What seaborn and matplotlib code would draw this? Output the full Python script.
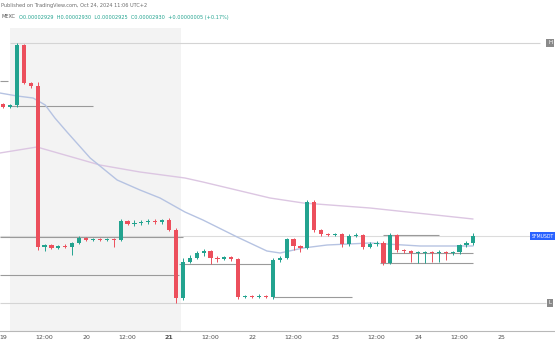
import pandas as pd
import matplotlib
matplotlib.use("Agg")
import matplotlib.pyplot as plt
import seaborn as sns

# 2h candles, x = hours since Oct 19 00:00, prices in 1e-8 USDT
hours = list(range(0, 137, 2))
first_open = 3062
closes = [3059, 3061, 3121, 3083, 3080, 2919, 2921, 2918, 2920, 2919, 2923, 2928,
          2926, 2927, 2926, 2927, 2926, 2945, 2942, 2943, 2944, 2945, 2944, 2946,
          2936, 2868, 2904, 2908, 2913, 2915, 2908, 2907, 2909, 2907, 2869, 2870,
          2869, 2870, 2869, 2906, 2908, 2927, 2920, 2918, 2964, 2936, 2932, 2931,
          2932, 2922, 2930, 2931, 2919, 2922, 2923, 2903, 2931, 2916, 2915, 2913,
          2913, 2914, 2913, 2914, 2913, 2914, 2921, 2923, 2930]
highs = [3063, 3062, 3123, 3122, 3084, 3084, 2922, 2922, 2921, 2922, 2924, 2930,
         2929, 2928, 2928, 2928, 2928, 2947, 2946, 2946, 2946, 2947, 2947, 2947,
         2948, 2938, 2908, 2911, 2915, 2917, 2916, 2910, 2910, 2910, 2908, 2871,
         2871, 2872, 2871, 2908, 2910, 2928, 2928, 2921, 2966, 2966, 2937, 2933,
         2933, 2933, 2932, 2933, 2932, 2924, 2925, 2925, 2933, 2932, 2917, 2916,
         2915, 2915, 2915, 2916, 2915, 2915, 2922, 2925, 2933]
lows = [3058, 3058, 3059, 3082, 3078, 2916, 2915, 2917, 2917, 2918, 2911, 2922,
        2925, 2925, 2925, 2925, 2919, 2925, 2941, 2940, 2941, 2942, 2942, 2942,
        2935, 2863, 2866, 2903, 2907, 2910, 2902, 2904, 2906, 2905, 2867, 2868,
        2868, 2868, 2868, 2867, 2904, 2907, 2916, 2914, 2917, 2934, 2930, 2930,
        2930, 2919, 2920, 2929, 2917, 2918, 2920, 2901, 2902, 2914, 2913, 2904,
        2903, 2903, 2904, 2904, 2906, 2911, 2912, 2919, 2921]

# moving averages
ma_fast_hours = [-0.9, 4.1, 8.7, 12.2, 15.0, 18.5, 25.2, 33.0, 39.6, 45.4, 52.6,
                 57.8, 67.7, 76.3, 80.1, 86.8, 93.7, 106.1, 120.6, 135.9]
ma_fast = [3073, 3070, 3068, 3061, 3048, 3034, 3008, 2986, 2976, 2968, 2954,
           2946, 2929, 2915, 2913, 2918, 2921, 2923, 2920, 2920]
ma_slow_hours = [-0.9, 9.8, 28.0, 39.6, 52.6, 57.8, 77.2, 86.8, 106.1, 135.9]
ma_slow = [3013, 3019, 3001, 2994, 2988, 2984, 2968, 2963, 2958, 2947]

# drawn horizontal levels
level_price = [3085, 3060, 2929, 2891, 2902, 2869, 2931, 2913, 2903]
level_from = [-0.9, 2.0, -0.9, -0.9, 51.0, 78.0, 110.0, 112.0, 109.0]
level_to = [1.4, 26.0, 52.0, 51.0, 78.0, 101.0, 126.0, 136.0, 136.0]

tick_hours = list(range(0, 145, 12))
tick_labels = ["19", "12:00", "20", "12:00", "21", "12:00", "22", "12:00",
               "23", "12:00", "24", "12:00", "25"]

df = pd.DataFrame({"hour": hours, "open": [first_open] + closes[:-1],
                   "high": highs, "low": lows, "close": closes})
df["up"] = df["close"] >= df["open"]
df["bottom"] = df[["open", "close"]].min(axis=1)
df["body"] = (df["close"] - df["open"]).abs().clip(lower=0.8)

sns.set_theme(style="white")
plt.rcParams["font.family"] = ["DejaVu Sans"]

fig = plt.figure(figsize=(5.55, 3.6), dpi=100)
ax = fig.add_axes([0, 29 / 360, 1, 303 / 360])

GREEN = "#22a38f"
RED = "#ec4f5c"

# weekend shading
ax.axvspan(2.0, 51.5, color="#f3f3f3", zorder=0, lw=0)

# full width lines: high, low, last price
last_price = closes[-1]
ax.hlines(max(highs), 2.0, 155.3, color="#d4d4d4", lw=0.8, zorder=1)
ax.hlines(min(lows), -0.9, 157.0, color="#d4d4d4", lw=0.8, zorder=1)
ax.hlines(last_price, -0.9, 153.5, color="#dcdcdc", lw=0.8, zorder=1)

for p, a, b in zip(level_price, level_from, level_to):
    ax.hlines(p, a, b, color="#9a9a9a", lw=0.8, zorder=2)

sns.lineplot(x=ma_slow_hours, y=ma_slow, ax=ax, color="#dcc6e2", lw=1.0, zorder=2)
sns.lineplot(x=ma_fast_hours, y=ma_fast, ax=ax, color="#b6c3e2", lw=1.0, zorder=2)

colors = [GREEN if u else RED for u in df["up"]]
ax.vlines(df["hour"], df["low"], df["high"], colors=colors, lw=0.7, zorder=3)
ax.bar(df["hour"], df["body"], bottom=df["bottom"], width=1.2, color=colors,
       lw=0, zorder=4)

ax.set_xlim(-0.87, 159.6)
ax.set_ylim(2835, 3138)
ax.set_xticks(tick_hours)
ax.set_xticklabels(tick_labels)
for lbl in ax.get_xticklabels():
    if lbl.get_text() == "21":
        lbl.set_fontweight("bold")
ax.tick_params(axis="x", length=0, labelsize=4.5, labelcolor="#4f4f4f", pad=3)
ax.set_yticks([])
for side in ["left", "right", "top"]:
    ax.spines[side].set_visible(False)
ax.spines["bottom"].set_color("#b8b8b8")
ax.spines["bottom"].set_linewidth(0.8)
ax.set_xlabel("")
ax.set_ylabel("")

# price scale labels
ax.text(158.2, max(highs), "H", fontsize=4, color="white", ha="center",
        va="center", bbox=dict(boxstyle="square,pad=0.3", fc="#8a8a8a", ec="none"))
ax.text(158.2, min(lows), "L", fontsize=4, color="white", ha="center",
        va="center", bbox=dict(boxstyle="square,pad=0.3", fc="#8a8a8a", ec="none"))
ax.text(159.2, last_price, "SFMUSDT", fontsize=3.3, color="white", ha="right",
        va="center", bbox=dict(boxstyle="square,pad=0.35", fc="#2962ff", ec="none"))

# header
fig.text(1 / 555, 1 - 5 / 360, "Published on TradingView.com, Oct 24, 2024 11:06 UTC+2",
         fontsize=3.6, color="#6b6b6b", ha="left", va="center")
fig.text(1 / 555, 1 - 17 / 360, "MEXC", fontsize=3.6,
         color="#555555", ha="left", va="center")
fig.text(19 / 555, 1 - 17 / 360,
         "O0.00002929  H0.00002930  L0.00002925  C0.00002930  +0.00000005 (+0.17%)",
         fontsize=3.6, color="#22a38f", ha="left", va="center")

fig.savefig("out.png", dpi=100)
